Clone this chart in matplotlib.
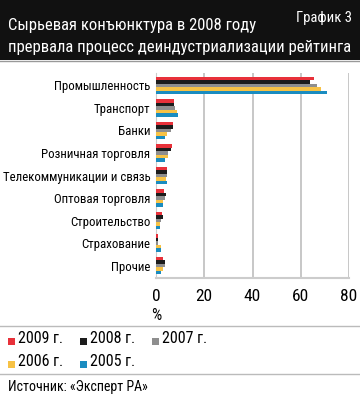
import numpy as np
import matplotlib.pyplot as plt
from matplotlib import font_manager
from matplotlib.patches import Rectangle
from matplotlib.lines import Line2D

# narrow font like the original, if one is available
installed = set(f.name for f in font_manager.fontManager.ttflist)
narrow = [f for f in ['Roboto Condensed', 'PT Sans Narrow', 'Fira Sans Condensed',
                      'IBM Plex Sans Condensed', 'Open Sans Condensed', 'Encode Sans Condensed',
                      'Liberation Sans Narrow'] if f in installed]
plt.rcParams['font.family'] = narrow[:1] + ['DejaVu Sans']

categories = ['Промышленность', 'Транспорт', 'Банки', 'Розничная торговля',
              'Телекоммуникации и связь', 'Оптовая торговля', 'Строительство',
              'Страхование', 'Прочие']
years = ['2009 г.', '2008 г.', '2007 г.', '2006 г.', '2005 г.']
v2009 = [65.6, 7.5, 7.1, 6.5, 4.6, 3.3, 2.5, 1.0, 3.0]
v2008 = [63.9, 7.6, 7.1, 6.2, 4.6, 4.1, 2.8, 1.0, 3.6]
v2007 = [66.7, 7.9, 6.1, 5.0, 4.6, 3.7, 2.1, 0.7, 3.6]
v2006 = [68.3, 8.6, 4.4, 5.0, 4.1, 3.0, 1.7, 2.1, 3.0]
v2005 = [70.7, 9.1, 3.7, 3.7, 4.4, 3.0, 1.8, 1.9, 2.2]
series = [v2009, v2008, v2007, v2006, v2005]
colors = ['#e8313a', '#1c1c1c', '#8e8e8e', '#f7c245', '#1a8cc0']

fig = plt.figure(figsize=(3.6, 3.95), dpi=100)

# title band
fig.patches.append(Rectangle((0, 1 - 60/395), 1, 60/395, transform=fig.transFigure,
                             facecolor='#111111', edgecolor='none', zorder=0))
fig.add_artist(Line2D([0, 1], [1 - 61/395] * 2, color='#999999', lw=1))
fig.text(0.022, 1 - 30/395, 'Сырьевая конъюнктура в 2008 году', color='white',
         fontsize=12, va='baseline')
fig.text(0.022, 1 - 52/395, 'прервала процесс деиндустриализации рейтинга', color='white',
         fontsize=12, va='baseline')
fig.text(0.978, 1 - 22/395, 'График 3', color='white', fontsize=10.5, ha='right', va='baseline')

ax = fig.add_axes([156/360, 1 - 278/395, 193/360, 205/395])
n = len(categories)
y = np.arange(n)
h = 0.155
for i, (vals, c) in enumerate(zip(series, colors)):
    ax.barh(y - 0.31 + i * h, vals, height=h * 0.95, color=c, zorder=3, label=years[i])

ax.set_xlim(0, 80)
ax.set_ylim(n - 0.45, -0.55)
ax.set_xticks([0, 20, 40, 60, 80])
ax.set_yticks(y)
ax.set_yticklabels(categories, fontsize=9.3)
ax.tick_params(axis='x', labelsize=12.5, length=0, pad=8)
ax.tick_params(axis='y', length=0, pad=4)
ax.grid(axis='x', color='#bdbdbd', linewidth=1.2, zorder=0)
for s in ['top', 'right']:
    ax.spines[s].set_visible(False)
ax.spines['left'].set_color('#cccccc')
ax.spines['bottom'].set_color('#cccccc')
ax.spines['bottom'].set_linewidth(1.5)
fig.text(156/360, 1 - 320/395, '%', fontsize=11.5, ha='center', va='baseline')

# separators
fig.add_artist(Line2D([0, 1], [1 - 326/395] * 2, color='#bbbbbb', lw=1))
fig.add_artist(Line2D([0, 1], [1 - 374/395] * 2, color='#bbbbbb', lw=1))

# legend
lx = [8/360, 80/360, 152/360, 8/360, 80/360]
ly = [1 - 345/395, 1 - 345/395, 1 - 345/395, 1 - 368/395, 1 - 368/395]
for i in range(5):
    fig.patches.append(Rectangle((lx[i], ly[i]), 7/360, 7/395, transform=fig.transFigure,
                                 facecolor=colors[i], edgecolor='none'))
    fig.text(lx[i] + 10/360, ly[i] - 1/395, years[i], fontsize=11.5, va='bottom')

fig.text(8/360, 1 - 391/395, 'Источник: «Эксперт РА»', fontsize=10, va='baseline')

fig.savefig('out.png', dpi=100)
